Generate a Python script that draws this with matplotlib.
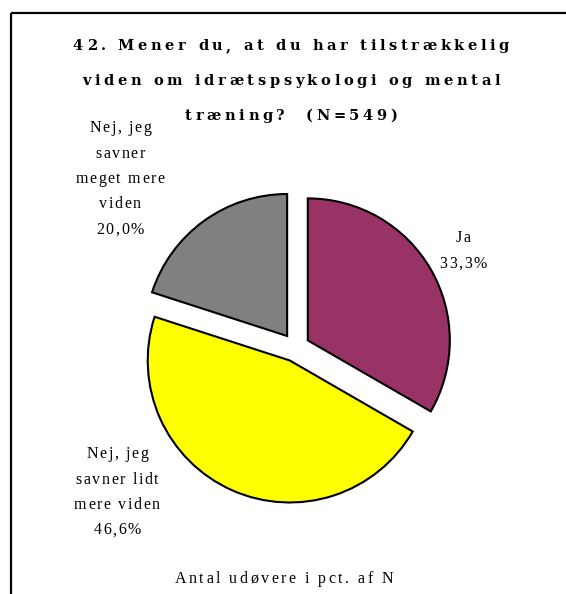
import matplotlib
matplotlib.use("Agg")
import matplotlib.pyplot as plt
from matplotlib.font_manager import FontProperties
from matplotlib.patches import Rectangle

# data
title_lines = ["42. Mener du, at du har tilstrækkelig",
               "viden om idrætspsykologi og mental",
               "træning?  (N=549)"]
categories = ["Ja",
              "Nej, jeg\nsavner lidt\nmere viden",
              "Nej, jeg\nsavner\nmeget mere\nviden"]
values = [33.3, 46.6, 20.0]
colors = ["#993366", "#FFFF00", "#808080"]
footer = "Antal udøvere i pct. af N"

W, H = 566, 594
fig = plt.figure(figsize=(W / 100, H / 100), dpi=100)
ax = fig.add_axes([0, 0, 1, 1])

# y axis runs downwards (pixel-like), so counterclock=True draws clockwise on screen
R = 142
ax.pie(values, colors=colors, startangle=-90, counterclock=True,
       explode=[0.1 * R] * len(values), radius=R, center=(295.5, 347.5),
       wedgeprops=dict(edgecolor="black", linewidth=1.5))
ax.set_xlim(0, W)
ax.set_ylim(H, 0)
ax.axis("off")

ax.add_patch(Rectangle((10.5, 13), 800, 800, fill=False,
                       edgecolor="black", linewidth=1.6))

renderer = fig.canvas.get_renderer()


def spaced_text(s, xc, y, size, weight="normal", track=3.0, family="Liberation Serif"):
    fp = FontProperties(family=family, size=size, weight=weight)
    bars = renderer.get_text_width_height_descent("||", fp, ismath=False)[0]

    def width(t):
        return renderer.get_text_width_height_descent("|" + t + "|", fp, ismath=False)[0] - bars

    total = width(s) + track * (len(s) - 1)
    x0 = xc - total / 2
    for i, ch in enumerate(s):
        if ch == " ":
            continue
        ax.text(x0 + width(s[:i]) + track * i, y, ch, fontproperties=fp,
                ha="left", va="baseline", color="black")


for i, line in enumerate(title_lines):
    spaced_text(line, 291, 50 + 35 * i, 10.5, "bold", 3.6, "DejaVu Serif")

label_pos = [(463, 242), (117, 458), (120, 132)]
for cat, v, (lx, ly) in zip(categories, values, label_pos):
    lines = cat.split("\n") + [f"{v:.1f}%".replace(".", ",")]
    for j, line in enumerate(lines):
        spaced_text(line, lx, ly + 25.5 * j, 11.5, "normal", 1.6)

spaced_text(footer, 284, 583, 11.5, "normal", 2.5)

fig.savefig("out.png", dpi=100)
